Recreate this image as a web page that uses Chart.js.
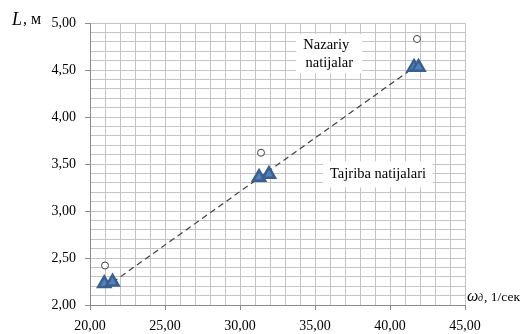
<!DOCTYPE html>
<html>
<head>
<meta charset="utf-8">
<script src="https://cdn.jsdelivr.net/npm/chart.js@4"></script>
<style>
  html, body { margin: 0; padding: 0; background: #fff; }
  #wrap { width: 524px; height: 334px; position: relative; }
</style>
</head>
<body>
<div id="wrap"><canvas id="chartL"></canvas></div>
<script>
// theory (Nazariy natijalar)
var theoryX = [21.0, 31.4, 41.8];
var theoryY = [2.42, 3.62, 4.83];

// experiment (Tajriba natijalari)
var expX = [20.95, 21.5, 31.27, 31.93, 41.6, 41.9];
var expY = [2.23, 2.245, 3.36, 3.39, 4.53, 4.53];

// trend line through experiment
var trendX = [21.5, 41.8];
var trendY = [2.24, 4.55];

var xTicks = [20, 25, 30, 35, 40, 45];
var yTicks = [2.0, 2.5, 3.0, 3.5, 4.0, 4.5, 5.0];

function toPoints(xs, ys) {
    return xs.map(function (x, i) { return { x: x, y: ys[i] }; });
}

function isLabeled(list, v) {
    return list.some(function (t) { return Math.abs(t - v) < 1e-6; });
}

function fmt(v) {
    return v.toFixed(2).replace('.', ',');
}

var serif = "'Liberation Serif', 'DejaVu Serif', serif";

var textPlugin = {
    id: 'annotations',
    afterDraw: function (chart) {
        var c = chart.ctx;
        var xs = chart.scales.x, ys = chart.scales.y;
        c.save();

        // white boxes behind labels
        c.fillStyle = '#fff';
        var nx = xs.getPixelForValue(35.95), ny = ys.getPixelForValue(4.68);
        c.fillRect(nx - 33, ny - 19, 66, 39);
        var tx = xs.getPixelForValue(39.2), ty = ys.getPixelForValue(3.39);
        c.fillRect(tx - 55, ty - 13, 110, 26);

        c.fillStyle = '#000';
        c.font = '14.5px ' + serif;
        c.textAlign = 'center';
        c.textBaseline = 'middle';
        c.fillText('Nazariy', nx - 3, ny - 8);
        c.fillText('natijalar', nx, ny + 10);
        c.fillText('Tajriba natijalari', tx, ty);

        // y axis title
        c.textAlign = 'left';
        c.font = 'italic 18px ' + serif;
        c.fillText('L', 12, 20);
        c.font = '16px ' + serif;
        c.fillText(', м', 23, 20);

        // x axis title
        var ax = chart.chartArea.right + 2, ay = chart.chartArea.bottom - 8;
        c.font = 'italic 16px ' + serif;
        c.fillText('ω', ax, ay);
        c.font = 'italic 10px ' + serif;
        c.fillText('д', ax + 11, ay + 1);
        c.font = '13.5px ' + serif;
        c.fillText(', 1/сек', ax + 17, ay);

        c.restore();
    }
};

var ctx = document.getElementById('chartL').getContext('2d');
var chartL = new Chart(ctx, {
    type: 'scatter',
    data: {
        datasets: [
            {
                label: 'Tajriba natijalari',
                data: toPoints(expX, expY),
                pointStyle: 'triangle',
                pointRadius: 7,
                borderWidth: 2.5,
                backgroundColor: '#4F81BD',
                borderColor: '#3A5F8F',
                order: 1
            },
            {
                label: 'Nazariy natijalar',
                data: toPoints(theoryX, theoryY),
                pointStyle: 'circle',
                pointRadius: 3.5,
                borderWidth: 1,
                backgroundColor: '#fff',
                borderColor: '#404040',
                order: 2
            },
            {
                label: 'trend',
                type: 'line',
                data: toPoints(trendX, trendY),
                showLine: true,
                borderColor: '#404040',
                borderWidth: 1.2,
                borderDash: [6, 4],
                pointRadius: 0,
                fill: false,
                order: 3
            }
        ]
    },
    options: {
        responsive: true,
        maintainAspectRatio: false,
        animation: false,
        layout: { padding: { top: 23, right: 59, left: 0, bottom: 0 } },
        plugins: {
            legend: { display: false },
            tooltip: { enabled: false }
        },
        scales: {
            x: {
                type: 'linear',
                min: 20,
                max: 45,
                afterFit: function (s) { s.height = 29; },
                ticks: {
                    stepSize: 1,
                    autoSkip: false,
                    maxRotation: 0,
                    padding: 8,
                    color: '#000',
                    font: { family: serif, size: 14 },
                    callback: function (v) { return isLabeled(xTicks, v) ? fmt(v) : ''; }
                },
                grid: {
                    color: '#c4c4c4',
                    lineWidth: 1,
                    tickLength: 5,
                    tickColor: function (c) { return isLabeled(xTicks, c.tick.value) ? '#8c8c8c' : 'rgba(0,0,0,0)'; }
                },
                border: { color: '#8c8c8c' }
            },
            y: {
                type: 'linear',
                min: 2,
                max: 5,
                afterFit: function (s) { s.width = 90; },
                ticks: {
                    stepSize: 0.1,
                    autoSkip: false,
                    padding: 9,
                    color: '#000',
                    font: { family: serif, size: 14 },
                    callback: function (v) { return isLabeled(yTicks, v) ? fmt(v) : ''; }
                },
                grid: {
                    color: '#c4c4c4',
                    lineWidth: 1,
                    tickLength: 5,
                    tickColor: function (c) { return isLabeled(yTicks, c.tick.value) ? '#8c8c8c' : 'rgba(0,0,0,0)'; }
                },
                border: { color: '#8c8c8c' }
            }
        }
    },
    plugins: [textPlugin]
});
</script>
</body>
</html>
